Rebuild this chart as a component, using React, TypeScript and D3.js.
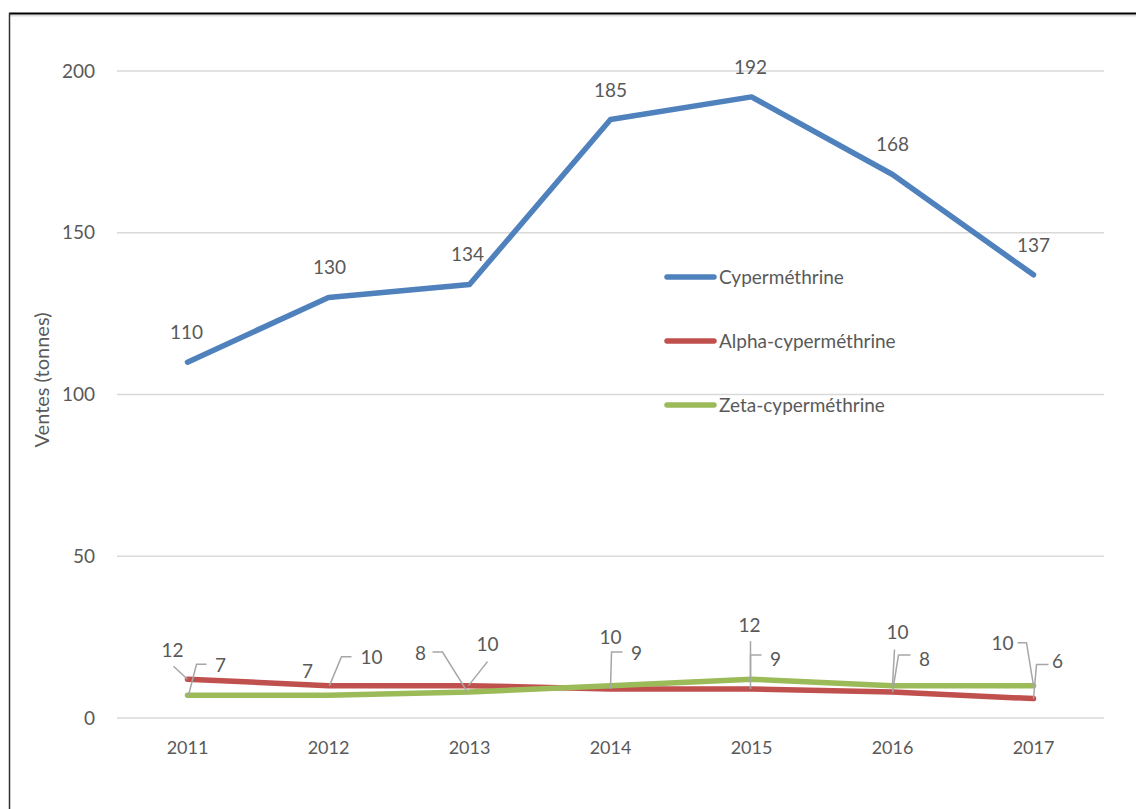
import React, { useEffect, useRef } from 'react';
import * as d3 from 'd3';

const years = ['2011', '2012', '2013', '2014', '2015', '2016', '2017'];
const cypermethrine = [110, 130, 134, 185, 192, 168, 137];
const alphaCypermethrine = [12, 10, 10, 9, 9, 8, 6];
const zetaCypermethrine = [7, 7, 8, 10, 12, 10, 10];
const yTicks = [0, 50, 100, 150, 200];
const seriesNames = ['Cyperméthrine', 'Alpha-cyperméthrine', 'Zeta-cyperméthrine'];
const seriesColors = ['#4F81BD', '#C0504D', '#9BBB59'];

// label placement (px, relative to the data point): text centre + leader polyline
type Lbl = { dx: number; dy: number; leader?: [number, number][] };
const blueLabels: Lbl[] = [
  { dx: -1, dy: -30 }, { dx: 1, dy: -30 }, { dx: -2, dy: -30 }, { dx: 0, dy: -29 },
  { dx: -1, dy: -30 }, { dx: 0, dy: -30 }, { dx: 0, dy: -29 },
];
const redLabels: Lbl[] = [
  { dx: -15, dy: -29, leader: [[-14, -13], [0, 0]] },
  { dx: 43, dy: -28, leader: [[23, -29], [13, -29], [1, 0]] },
  { dx: 18, dy: -41, leader: [[18, -24], [-1, 0]] },
  { dx: 26, dy: -36, leader: [[12, -37], [1, -37], [0, 0]] },
  { dx: 24, dy: -30, leader: [[10, -34], [-1, -34], [-1, 0]] },
  { dx: 32, dy: -33, leader: [[18, -37], [6, -37], [0, 0]] },
  { dx: 24, dy: -37, leader: [[15, -34], [3, -34], [0, 0]] },
];
const greenLabels: Lbl[] = [
  { dx: 33, dy: -30, leader: [[19, -31], [9, -31], [1, 0]] },
  { dx: -21, dy: -24 },
  { dx: -49, dy: -39, leader: [[-37, -40], [-27, -40], [-2, 0]] },
  { dx: 0, dy: -48 },
  { dx: -2, dy: -54, leader: [[-1, -38], [-1, 0]] },
  { dx: 5, dy: -53, leader: [[2, -36], [0, 0]] },
  { dx: -31, dy: -42, leader: [[-16, -43], [-7, -43], [0, 0]] },
];

const FONT = 'Lato, "Open Sans", sans-serif';
const TEXT = '#595959';

export default function App() {
  const svgRef = useRef<SVGSVGElement>(null);

  useEffect(() => {
    const width = 1136;
    const height = 809;
    const margin = { top: 71, right: 32, bottom: 91, left: 117 };

    const svg = d3.select(svgRef.current);
    svg.selectAll('*').remove();
    svg.attr('width', width).attr('height', height);

    svg.append('rect').attr('width', width).attr('height', height).attr('fill', '#fff');

    // frame (top + left edges visible)
    svg.append('line').attr('x1', 9).attr('x2', width).attr('y1', 15.5).attr('y2', 15.5)
      .attr('stroke', '#ddd').attr('stroke-width', 2);
    svg.append('line').attr('x1', 9).attr('x2', width).attr('y1', 13.5).attr('y2', 13.5)
      .attr('stroke', '#000').attr('stroke-width', 2);
    svg.append('line').attr('x1', 9.5).attr('x2', 9.5).attr('y1', 13).attr('y2', height)
      .attr('stroke', '#333').attr('stroke-width', 1.5);

    const x = d3.scaleBand().domain(years).range([margin.left, width - margin.right]);
    const cx = (yr: string) => (x(yr) as number) + x.bandwidth() / 2;
    const y = d3.scaleLinear().domain([0, 200]).range([height - margin.bottom, margin.top]);

    // gridlines
    svg.append('g').selectAll('line').data(yTicks).enter().append('line')
      .attr('x1', x.range()[0]).attr('x2', x.range()[1])
      .attr('y1', d => y(d)).attr('y2', d => y(d))
      .attr('stroke', '#d9d9d9').attr('stroke-width', 1.5);

    // y axis labels
    const yAxis = d3.axisLeft(y).tickValues(yTicks).tickSize(0).tickPadding(0);
    const gy = svg.append('g').attr('transform', `translate(95,0)`).call(yAxis);
    gy.select('.domain').remove();
    gy.selectAll('text').attr('fill', TEXT).attr('font-size', 19).attr('font-family', FONT);

    // x axis labels
    const xAxis = d3.axisBottom(x).tickSize(0).tickPadding(0);
    const gx = svg.append('g').attr('transform', `translate(0,${y(0) + 23})`).call(xAxis);
    gx.select('.domain').remove();
    gx.selectAll('text').attr('fill', TEXT).attr('font-size', 18).attr('font-family', FONT);

    // axis title
    svg.append('text')
      .attr('transform', `translate(49,380) rotate(-90)`)
      .attr('text-anchor', 'middle')
      .attr('fill', TEXT).attr('font-size', 20).attr('font-family', FONT)
      .text('Ventes (tonnes)');

    const line = d3.line<number>()
      .x((_, i) => cx(years[i]))
      .y(d => y(d));

    const allSeries = [cypermethrine, alphaCypermethrine, zetaCypermethrine];
    // red first, then green, blue on top
    [1, 2, 0].forEach(si => {
      svg.append('path').datum(allSeries[si]).attr('d', line)
        .attr('fill', 'none').attr('stroke', seriesColors[si])
        .attr('stroke-width', 5.5).attr('stroke-linejoin', 'round').attr('stroke-linecap', 'round');
    });

    // legend
    const lg = svg.append('g');
    seriesNames.forEach((name, i) => {
      const ly = 277 + i * 64;
      lg.append('line').attr('x1', 667).attr('x2', 714).attr('y1', ly).attr('y2', ly)
        .attr('stroke', seriesColors[i]).attr('stroke-width', 5.5).attr('stroke-linecap', 'round');
      lg.append('text').attr('x', 719).attr('y', ly).attr('dy', '0.35em')
        .attr('fill', TEXT).attr('font-size', 19).attr('font-family', FONT)
        .text(name);
    });

    // data labels
    const drawLabels = (vals: number[], lbls: Lbl[]) => {
      vals.forEach((v, i) => {
        const px = cx(years[i]);
        const py = y(v);
        const l = lbls[i];
        if (l.leader) {
          svg.append('path')
            .attr('d', d3.line()(l.leader.map(([a, b]) => [px + a, py + b]) as [number, number][]))
            .attr('fill', 'none').attr('stroke', '#a6a6a6').attr('stroke-width', 1.5);
        }
        svg.append('text').attr('x', px + l.dx).attr('y', py + l.dy).attr('dy', '0.35em')
          .attr('text-anchor', 'middle')
          .attr('fill', TEXT).attr('font-size', 19).attr('font-family', FONT)
          .text(v);
      });
    };
    drawLabels(cypermethrine, blueLabels);
    drawLabels(alphaCypermethrine, redLabels);
    drawLabels(zetaCypermethrine, greenLabels);
  }, []);

  return (
    <svg ref={svgRef} style={{ position: 'absolute', left: 0, top: 0, display: 'block' }} />
  );
}
